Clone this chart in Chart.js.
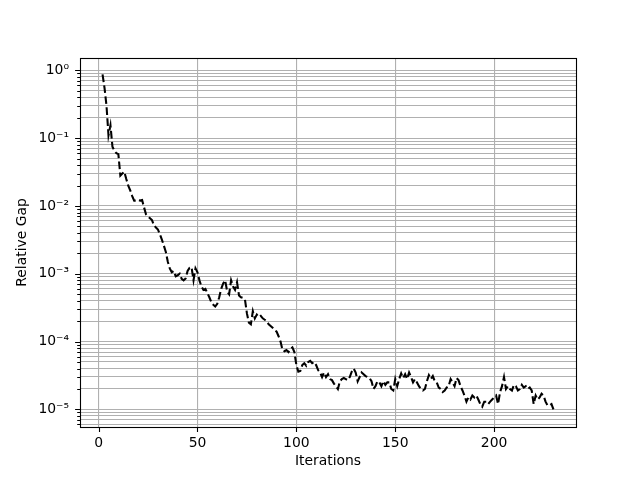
<!DOCTYPE html>
<html>
<head>
<meta charset="utf-8">
<script src="https://cdn.jsdelivr.net/npm/chart.js@4.4.1/dist/chart.umd.min.js"></script>
<style>
  html, body { margin: 0; padding: 0; background: #fff; }
  #wrap { width: 640px; height: 480px; }
</style>
</head>
<body>
<div id="wrap"><canvas id="c" width="640" height="480"></canvas></div>
<script>
// ---- data ----
const firstIteration = 2;
const relativeGap = [
  0.87, 0.55, 0.3, 0.11, 0.155, 0.075, 0.065, 0.06, 0.058,            // 2-10
  0.028, 0.03, 0.032, 0.025, 0.02, 0.017, 0.014, 0.012, 0.012, 0.0122, // 11-20
  0.012, 0.0122, 0.0095, 0.0075, 0.007, 0.0066, 0.0062, 0.0052, 0.0048, 0.0045, // 21-30
  0.0038, 0.0032, 0.0026, 0.0021, 0.0015, 0.0012, 0.00105, 0.0011, 0.00092, 0.00095, // 31-40
  0.001, 0.00084, 0.0008, 0.00085, 0.0011, 0.00122, 0.00125, 0.0008, 0.0012, 0.00105, // 41-50
  0.0008, 0.00065, 0.00058, 0.0006, 0.00052, 0.00045, 0.00038, 0.00035, 0.00033, 0.00036, // 51-60
  0.00045, 0.0006, 0.00072, 0.0008, 0.00055, 0.0005, 0.0008, 0.00065, 0.00058, 0.00075, // 61-70
  0.00048, 0.00045, 0.00044, 0.00042, 0.00026, 0.00019, 0.00018, 0.00028, 0.00022, 0.00025, // 71-80
  0.00023, 0.00024, 0.00022, 0.00021, 0.0002, 0.00018, 0.00017, 0.00016, 0.00015, 0.00014, // 81-90
  0.00012, 0.0001, 0.000075, 0.000072, 0.000075, 0.00007, 0.000078, 0.000082, 0.00007, 0.000045, // 91-100
  0.000036, 0.000037, 0.000045, 0.000048, 0.000044, 0.00005, 0.000052, 0.000048, 0.00005, 0.000045, // 101-110
  0.000038, 0.000035, 0.00003, 0.000035, 0.00003, 0.000033, 0.000028, 0.000027, 0.000024, 0.000022, // 111-120
  0.00002, 0.000026, 0.000028, 0.000029, 0.000028, 0.000027, 0.00003, 0.000036, 0.00004, 0.000035, // 121-130
  0.000026, 0.00003, 0.000035, 0.000033, 0.000031, 0.00003, 0.000029, 0.000026, 0.00002, 0.000022, // 131-140
  0.000026, 0.000025, 0.000022, 0.000026, 0.000023, 0.000025, 0.000025, 0.00002, 0.000019, 0.000028, // 141-150
  0.000022, 0.000028, 0.000034, 0.000029, 0.000033, 0.000028, 0.000035, 0.00003, 0.000025, 0.000028, // 151-160
  0.000025, 0.000022, 0.00002, 0.000019, 0.00002, 0.000026, 0.000032, 0.000028, 0.000031, 0.000026, // 161-170
  0.000025, 0.000021, 0.00002, 0.000018, 0.000019, 0.000021, 0.000022, 0.000028, 0.000025, 0.000022, // 171-180
  0.000029, 0.000027, 0.000022, 0.000019, 0.000016, 0.000013, 0.000015, 0.000014, 0.000016, 0.000015, // 181-190
  0.000016, 0.000014, 0.000012, 0.000011, 0.000013, 0.000013, 0.000012, 0.000013, 0.000014, 0.000015, // 191-200
  0.000016, 0.000012, 0.000018, 0.000022, 0.00003, 0.00002, 0.000022, 0.00002, 0.000019, 0.000023, // 201-210
  0.000022, 0.000019, 0.00002, 0.000023, 0.000021, 0.000022, 0.00002, 0.000021, 0.000019, 0.000012, // 211-220
  0.000016, 0.000014, 0.000015, 0.000017, 0.000016, 0.000013, 0.0000115, 0.0000115, 0.000012, 0.00001 // 221-230
];
const iterations = relativeGap.map((_, i) => firstIteration + i);
const xTickValues = [0, 50, 100, 150, 200];
const xLimits = [-9.4, 241.4];
const yLimits = [5.5e-6, 1.52];

// ---- helpers ----
const SUP = {'-': '\u207B', '0': '\u2070', '1': '\u00B9', '2': '\u00B2', '3': '\u00B3',
  '4': '\u2074', '5': '\u2075', '6': '\u2076', '7': '\u2077', '8': '\u2078', '9': '\u2079'};
function powLabel(e) { return '10' + String(e).split('').map(c => SUP[c]).join(''); }
function isDecade(v) { const l = Math.log10(v); return Math.abs(l - Math.round(l)) < 1e-9; }

const yTickValues = [];
for (let e = -6; e <= 0; e++) {
  for (let m = 1; m <= 9; m++) {
    const v = m * Math.pow(10, e);
    if (v > yLimits[0] && v < yLimits[1]) yTickValues.push(v);
  }
}

const FONT = 'DejaVu Sans';
const frameAndTicks = {
  id: 'frameAndTicks',
  afterDraw(chart) {
    const {ctx, chartArea: a, scales} = chart;
    ctx.save();
    ctx.strokeStyle = '#000';
    ctx.lineWidth = 1.1;
    ctx.beginPath();
    scales.y.ticks.forEach(t => {
      const py = Math.round(scales.y.getPixelForValue(t.value)) + 0.5;
      const len = isDecade(t.value) ? 4.9 : 2.8;
      ctx.moveTo(a.left - len, py); ctx.lineTo(a.left, py);
    });
    scales.x.ticks.forEach(t => {
      const px = Math.round(scales.x.getPixelForValue(t.value)) + 0.5;
      ctx.moveTo(px, a.bottom); ctx.lineTo(px, a.bottom + 4.9);
    });
    ctx.stroke();
    ctx.strokeRect(Math.round(a.left) + 0.5, Math.round(a.top) + 0.5,
      Math.round(a.right - a.left), Math.round(a.bottom - a.top));
    ctx.restore();
  }
};

new Chart(document.getElementById('c'), {
  type: 'line',
  data: {
    datasets: [{
      data: iterations.map((x, i) => ({x: x, y: relativeGap[i]})),
      borderColor: '#000',
      borderWidth: 2.08,
      borderDash: [7.7, 3.33],
      pointRadius: 0,
      tension: 0,
      fill: false
    }]
  },
  options: {
    responsive: false,
    animation: false,
    devicePixelRatio: 1,
    layout: {padding: {top: 58, right: 64, bottom: 0, left: 0}},
    plugins: {legend: {display: false}, tooltip: {enabled: false}},
    scales: {
      x: {
        type: 'linear',
        min: xLimits[0], max: xLimits[1],
        afterBuildTicks: s => { s.ticks = xTickValues.map(v => ({value: v})); },
        afterFit: s => { s.height = 53; },
        grid: {color: '#b0b0b0', lineWidth: 1.1, drawTicks: false},
        border: {display: false},
        ticks: {
          autoSkip: false, maxRotation: 0, padding: 8,
          color: '#000', font: {family: FONT, size: 13.9},
          callback: v => String(v)
        },
        title: {
          display: true, text: 'Iterations', color: '#000',
          font: {family: FONT, size: 13.9, lineHeight: 1.2},
          padding: {top: 0, bottom: 10}
        }
      },
      y: {
        type: 'logarithmic',
        min: yLimits[0], max: yLimits[1],
        afterBuildTicks: s => { s.ticks = yTickValues.map(v => ({value: v})); },
        afterFit: s => { s.width = 80; },
        grid: {color: '#b0b0b0', lineWidth: 1.1, drawTicks: false},
        border: {display: false},
        ticks: {
          autoSkip: false, padding: 11,
          color: '#000', font: {family: FONT, size: 13.9},
          callback: v => isDecade(v) ? powLabel(Math.round(Math.log10(v))) : ''
        },
        title: {
          display: true, text: 'Relative Gap', color: '#000',
          font: {family: FONT, size: 13.9, lineHeight: 1.2},
          padding: {top: 14, bottom: 0}
        }
      }
    }
  },
  plugins: [frameAndTicks]
});
</script>
</body>
</html>
